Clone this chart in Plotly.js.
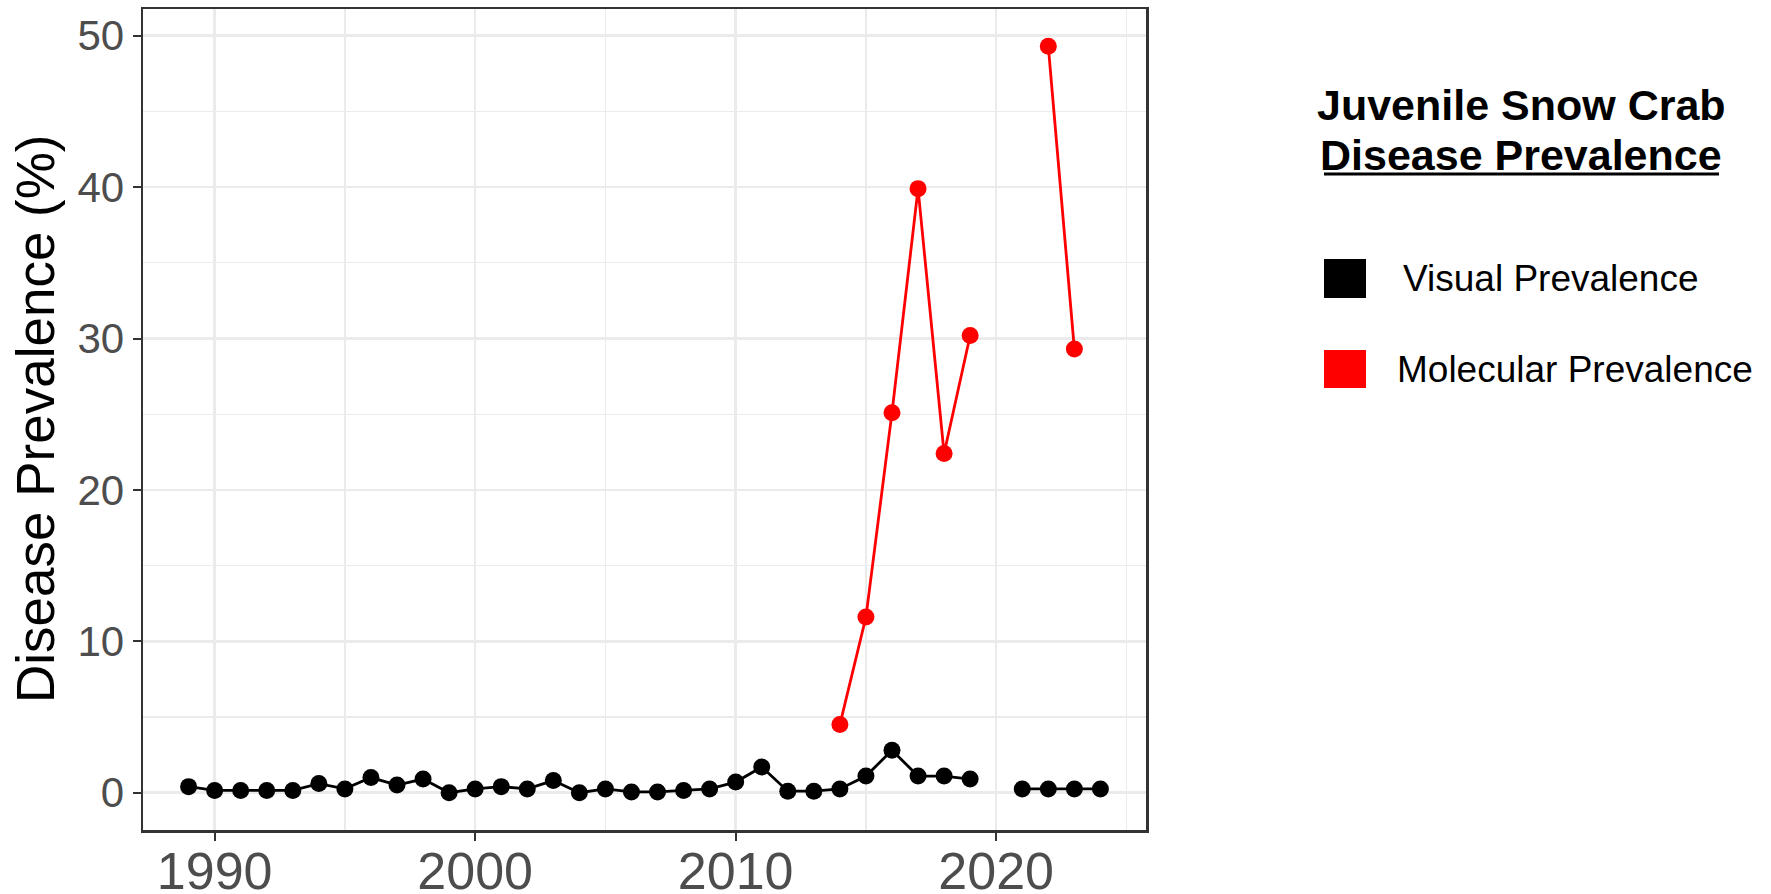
<!DOCTYPE html>
<html>
<head>
<meta charset="utf-8">
<script src="https://cdn.plot.ly/plotly-3.0.1.min.js"></script>
<style>
  html, body { margin: 0; padding: 0; background: #ffffff; }
  #chart { width: 1771px; height: 894px; }
</style>
</head>
<body>
<div id="chart"></div>
<script>
// Survey years and prevalence (%) of disease in juvenile snow crab
const visualYears = [1989, 1990, 1991, 1992, 1993, 1994, 1995, 1996, 1997, 1998,
                     1999, 2000, 2001, 2002, 2003, 2004, 2005, 2006, 2007, 2008,
                     2009, 2010, 2011, 2012, 2013, 2014, 2015, 2016, 2017, 2018,
                     2019, 2020, 2021, 2022, 2023, 2024];
const visualPct = [0.4, 0.15, 0.15, 0.15, 0.15, 0.6, 0.25, 1.0, 0.5, 0.9,
                   0.0, 0.25, 0.4, 0.25, 0.8, 0.0, 0.25, 0.05, 0.05, 0.15,
                   0.25, 0.7, 1.7, 0.1, 0.1, 0.25, 1.1, 2.8, 1.1, 1.1,
                   0.9, null, 0.25, 0.25, 0.25, 0.25];

const molecularYears = [2014, 2015, 2016, 2017, 2018, 2019, 2020, 2022, 2023];
const molecularPct = [4.5, 11.6, 25.1, 39.9, 22.4, 30.2, null, 49.3, 29.3];

const seriesNames = ['Visual Prevalence', 'Molecular Prevalence'];
const seriesColors = ['#000000', '#FF0000'];
const legendTitle = ['Juvenile Snow Crab', 'Disease Prevalence'];
const yTitle = 'Disease Prevalence (%)';

const yTicks = [0, 10, 20, 30, 40, 50];
const xTicks = [1990, 2000, 2010, 2020];

// Page geometry of the plotting panel (pixels)
const W = 1771, H = 894;
const M = { l: 143, r: 625, t: 9, b: 64 };
const PW = W - M.l - M.r, PH = H - M.t - M.b;
const px = x => (x - M.l) / PW;
const py = y => (H - M.b - y) / PH;

const FONT = 'Liberation Sans, Arial, sans-serif';

function series(xs, ys, name, color) {
  return {
    x: xs, y: ys, name: name, type: 'scatter', mode: 'lines+markers',
    connectgaps: false,
    line: { color: color, width: 2.8 },
    marker: { color: color, size: 17, symbol: 'circle' },
    showlegend: false, hoverinfo: 'x+y+name'
  };
}

const traces = [
  series(visualYears, visualPct, seriesNames[0], seriesColors[0]),
  series(molecularYears, molecularPct, seriesNames[1], seriesColors[1])
];

// x/y ranges expanded by 5% of the data span on each side
const xMin = Math.min(...visualYears), xMax = Math.max(...visualYears);
const xPad = (xMax - xMin) * 0.05;
const yMaxData = Math.max(...molecularPct.filter(v => v !== null));
const yPad = yMaxData * 0.05;

const gridColor = '#EBEBEB';

const layout = {
  width: W, height: H,
  margin: M,
  paper_bgcolor: '#ffffff',
  plot_bgcolor: '#ffffff',
  font: { family: FONT, color: '#000000' },
  xaxis: {
    range: [xMin - xPad, xMax + xPad],
    tickvals: xTicks,
    ticktext: xTicks.map(String),
    ticks: 'outside', ticklen: 8, tickwidth: 2, tickcolor: '#333333',
    ticklabelstandoff: -14,
    tickfont: { family: FONT, size: 52, color: '#4D4D4D' },
    showgrid: true, gridcolor: gridColor, gridwidth: 2.5,
    minor: { dtick: 5, tick0: 1985, showgrid: true, gridcolor: gridColor, gridwidth: 1.3, ticks: '' },
    showline: true, linecolor: '#333333', linewidth: 2.5, mirror: true,
    zeroline: false
  },
  yaxis: {
    range: [-yPad, yMaxData + yPad],
    tickvals: yTicks,
    ticktext: yTicks.map(String),
    ticks: 'outside', ticklen: 8, tickwidth: 2, tickcolor: '#333333',
    tickfont: { family: FONT, size: 42, color: '#4D4D4D' },
    showgrid: true, gridcolor: gridColor, gridwidth: 2.5,
    minor: { dtick: 5, tick0: 5, showgrid: true, gridcolor: gridColor, gridwidth: 1.3, ticks: '' },
    showline: true, linecolor: '#333333', linewidth: 2.5, mirror: true,
    zeroline: false
  },
  shapes: [
    // legend keys
    { type: 'rect', xref: 'paper', yref: 'paper', x0: px(1324), x1: px(1366), y0: py(298), y1: py(259),
      fillcolor: seriesColors[0], line: { width: 0 } },
    { type: 'rect', xref: 'paper', yref: 'paper', x0: px(1324), x1: px(1366), y0: py(388), y1: py(350),
      fillcolor: seriesColors[1], line: { width: 0 } },
    // underline of the second legend-title line
    { type: 'line', xref: 'paper', yref: 'paper', x0: px(1324), x1: px(1719), y0: py(174), y1: py(174),
      line: { color: '#000000', width: 3 } }
  ],
  annotations: [
    { text: yTitle, xref: 'paper', yref: 'paper', x: px(35), y: py(419),
      xanchor: 'center', yanchor: 'middle', textangle: -90, showarrow: false,
      font: { family: FONT, size: 53, color: '#000000' } },
    { text: '<b>' + legendTitle[0] + '</b>', xref: 'paper', yref: 'paper', x: px(1521), y: py(105),
      xanchor: 'center', yanchor: 'middle', showarrow: false,
      font: { family: FONT, size: 43, color: '#000000' } },
    { text: '<b>' + legendTitle[1] + '</b>', xref: 'paper', yref: 'paper', x: px(1521), y: py(155),
      xanchor: 'center', yanchor: 'middle', showarrow: false,
      font: { family: FONT, size: 43, color: '#000000' } },
    { text: seriesNames[0], xref: 'paper', yref: 'paper', x: px(1401), y: py(279),
      xanchor: 'left', yanchor: 'middle', showarrow: false,
      font: { family: FONT, size: 37, color: '#000000' } },
    { text: seriesNames[1], xref: 'paper', yref: 'paper', x: px(1395), y: py(369),
      xanchor: 'left', yanchor: 'middle', showarrow: false,
      font: { family: FONT, size: 37, color: '#000000' } }
  ]
};

Plotly.newPlot('chart', traces, layout, { staticPlot: true, displayModeBar: false });
</script>
</body>
</html>
